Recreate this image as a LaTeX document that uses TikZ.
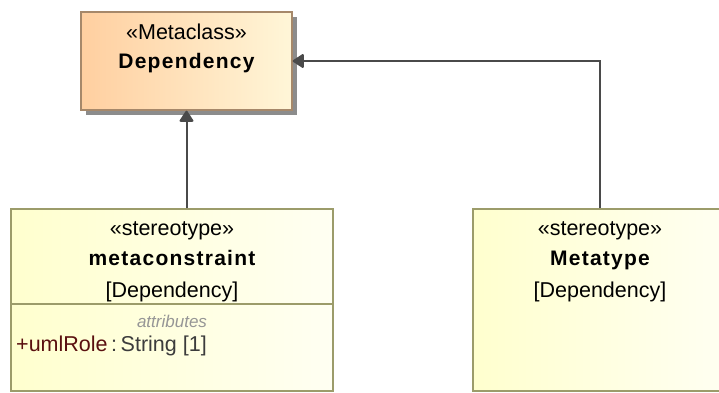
\documentclass[tikz,border=0pt]{standalone}
\usepackage{fontspec}
\setmainfont{Liberation Sans}
\usepackage{tikz}
\usetikzlibrary{arrows.meta,shadows}

\definecolor{metaOrange}{RGB}{255,207,160}
\definecolor{metaLight}{RGB}{255,246,216}
\definecolor{metaBorder}{RGB}{166,136,106}
\definecolor{stereoLeft}{RGB}{255,255,206}
\definecolor{stereoRight}{RGB}{255,255,242}
\definecolor{stereoBorder}{RGB}{156,156,106}
\definecolor{arrowGray}{RGB}{74,74,74}
\definecolor{roleRed}{RGB}{90,16,16}
\definecolor{typeGray}{RGB}{60,60,60}
\definecolor{compGray}{RGB}{150,150,150}

\begin{document}
\begin{tikzpicture}[x=1pt, y=-1pt, >=latex,
    every node/.style={font=\fontsize{21.5}{25}\selectfont},
    metaclass/.style={draw=metaBorder, line width=1.3pt, rectangle, left color=metaOrange, right color=metaLight,
        drop shadow={shadow xshift=5pt, shadow yshift=-5pt, fill=black!45, opacity=1}},
    stereo/.style={draw=stereoBorder, line width=1.3pt, rectangle, left color=stereoLeft, right color=stereoRight},
    ext/.style={draw=arrowGray, line width=2pt, -{Triangle[width=15pt,length=12pt,line join=round]}},
    boldname/.style={font=\fontsize{21}{25}\selectfont\bfseries\addfontfeature{LetterSpace=6}}]

    \useasboundingbox (0,0) rectangle (719,392);

    % Boxes
    \node[metaclass, minimum width=211pt, minimum height=98pt] (dep) at (186.5,61) {};
    \node[stereo, minimum width=322pt, minimum height=182pt] (mc) at (172,300) {};
    \node[stereo, minimum width=254pt, minimum height=182pt] (mt) at (600,300) {};

    % Texts of the metaclass
    \node[anchor=base] (depst) at (186.5,39) {«Metaclass»};
    \node[anchor=base, boldname] (depname) at (186.5,68) {Dependency};

    % Texts of metaconstraint
    \node[anchor=base] (mcst) at (172,235) {«stereotype»};
    \node[anchor=base, boldname] (mcname) at (172,265) {metaconstraint};
    \node[anchor=base] (mcbase) at (172,297) {[Dependency]};
    \draw[stereoBorder, line width=1.3pt] (mc.west |- 0,304) coordinate (mcl) -- (mc.east |- mcl);
    \node[anchor=base, text=compGray, font=\fontsize{17}{20}\selectfont\itshape] (mcattr) at (172,327) {attributes};
    \node[anchor=base west, inner sep=0pt] (mcrole) at (16,351)
        {\textcolor{roleRed}{+umlRole}\,\textcolor{typeGray}{:\,String [1]}};

    % Texts of Metatype
    \node[anchor=base] (mtst) at (600,235) {«stereotype»};
    \node[anchor=base, boldname] (mtname) at (600,265) {Metatype};
    \node[anchor=base] (mtbase) at (600,297) {[Dependency]};

    % Extensions
    \draw[ext] (dep.south |- mc.north) -- (dep.south);
    \draw[ext] (mt.north) |- (dep.east);
\end{tikzpicture}
\end{document}
